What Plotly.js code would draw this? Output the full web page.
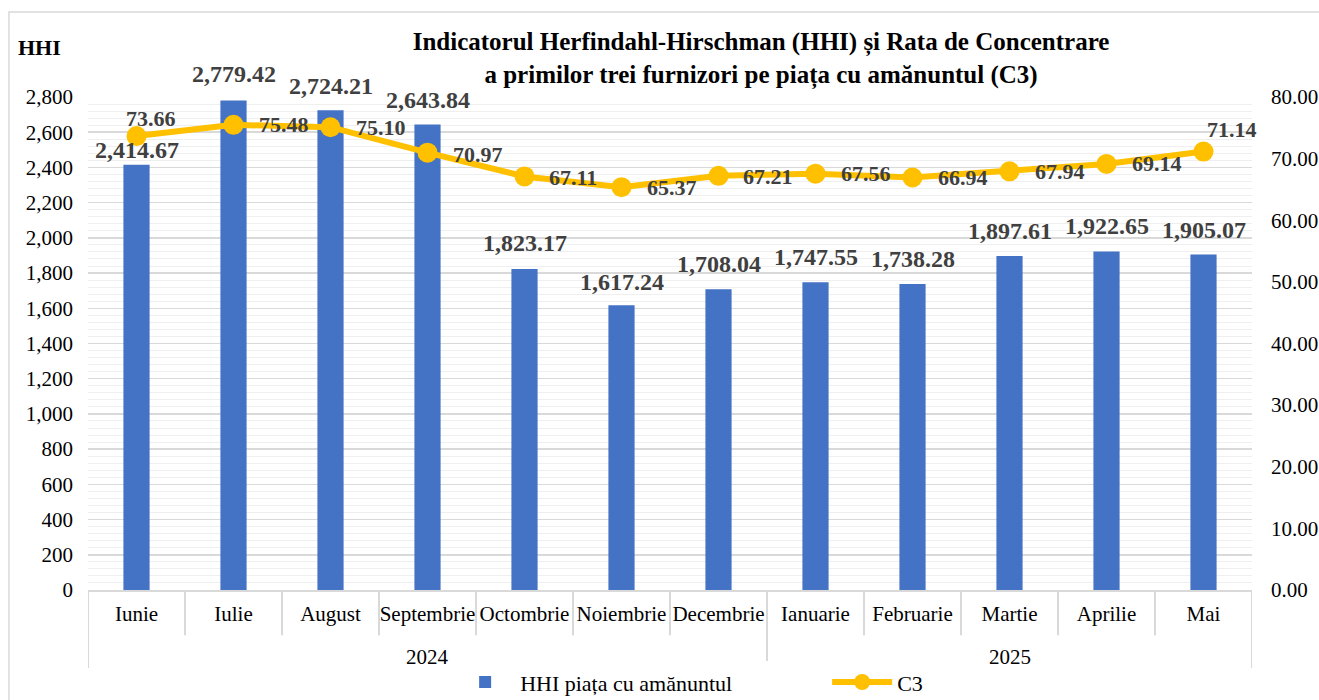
<!DOCTYPE html>
<html>
<head>
<meta charset="utf-8">
<script src="https://cdn.plot.ly/plotly-3.0.1.min.js"></script>
<style>
  html, body { margin: 0; padding: 0; background: #ffffff; }
  #chart { width: 1319px; height: 700px; }
</style>
</head>
<body>
<div id="chart"></div>
<script>
// ---- data ----
const months = ["Iunie", "Iulie", "August", "Septembrie", "Octombrie", "Noiembrie", "Decembrie",
                "Ianuarie", "Februarie", "Martie", "Aprilie", "Mai"];
const years = ["2024", "2025"];
const yearSpans = [[0, 6], [7, 11]];   // first and last month index for each year
const hhi = [2414.67, 2779.42, 2724.21, 2643.84, 1823.17, 1617.24, 1708.04,
             1747.55, 1738.28, 1897.61, 1922.65, 1905.07];
const c3 = [73.66, 75.48, 75.10, 70.97, 67.11, 65.37, 67.21,
            67.56, 66.94, 67.94, 69.14, 71.14];

// label placement (pixel offsets, style only)
const hhiLabelShift = [15, 27, 24, 25, 26, 23, 25, 25, 25, 25, 25, 25];
const c3LabelDx = [14, 50, 50, 50, 48, 50, 49, 50, 50, 50, 50, 28];
const c3LabelDy = [18, 0, 0, -2, -1, 0, -1, 0, 0, 0, 0, 22];

const serif = "Liberation Serif";
const tickSize = 21;
const labelColor = "#404040";

const fmt2 = v => v.toLocaleString("en-US", { minimumFractionDigits: 2, maximumFractionDigits: 2 });

const traces = [
  {
    type: "bar",
    name: "HHI piața cu amănuntul",
    x: months,
    y: hhi,
    yaxis: "y",
    marker: { color: "#4472C4" },
    cliponaxis: false
  },
  {
    type: "scatter",
    mode: "lines+markers",
    name: "C3",
    x: months,
    y: c3,
    yaxis: "y2",
    line: { color: "#FFC000", width: 6 },
    marker: { color: "#FFC000", size: 20 },
    cliponaxis: false
  }
];

// separators under category axis
const shapes = [];
const monthSepBottom = -0.092;
const yearSepBottom = -0.158;
const yearBoundaries = new Set([-0.5]);
yearSpans.forEach(s => yearBoundaries.add(s[1] + 0.5));
for (let i = 0; i <= months.length; i++) {
  const xpos = i - 0.5;
  shapes.push({
    type: "line", xref: "x", yref: "paper",
    x0: xpos, x1: xpos, y0: 0, y1: yearBoundaries.has(xpos) ? yearSepBottom : monthSepBottom,
    line: { color: "#d9d9d9", width: 2 }
  });
}
// outer chart border
shapes.push({
  type: "rect", xref: "paper", yref: "paper",
  x0: -0.0679, x1: 1.0868, y0: -0.25, y1: 1.1724,
  line: { color: "#d9d9d9", width: 1.5 }, fillcolor: "rgba(0,0,0,0)", layer: "below"
});

const annotations = [];
// year labels
yearSpans.forEach((s, k) => annotations.push({
  xref: "x", yref: "paper",
  x: (s[0] + s[1]) / 2, y: -0.136,
  text: years[k], showarrow: false,
  font: { family: serif, size: tickSize, color: "#000000" },
  xanchor: "center", yanchor: "middle"
}));
// axis caption
annotations.push({
  xref: "paper", yref: "paper", x: -0.062, y: 1.0994,
  xanchor: "left", yanchor: "middle",
  text: "<b>HHI</b>", showarrow: false,
  font: { family: serif, size: 22, color: "#000000" }
});
// bar value labels
months.forEach((m, i) => annotations.push({
  xref: "x", yref: "y", x: m, y: hhi[i],
  yshift: hhiLabelShift[i],
  xanchor: "center", yanchor: "middle",
  text: "<b>" + fmt2(hhi[i]) + "</b>", showarrow: false,
  font: { family: serif, size: 24, color: labelColor }
}));
// C3 value labels
months.forEach((m, i) => annotations.push({
  xref: "x", yref: "y2", x: m, y: c3[i],
  xshift: c3LabelDx[i], yshift: c3LabelDy[i],
  xanchor: "center", yanchor: "middle",
  text: "<b>" + c3[i].toFixed(2) + "</b>", showarrow: false,
  font: { family: serif, size: 22, color: labelColor }
}));

const layout = {
  width: 1319,
  height: 700,
  margin: { l: 88, r: 67, t: 97, b: 110, autoexpand: false },
  paper_bgcolor: "#ffffff",
  plot_bgcolor: "#ffffff",
  font: { family: serif, size: tickSize, color: "#000000" },
  title: {
    text: "<b>Indicatorul Herfindahl-Hirschman (HHI) și Rata de Concentrare<br>a primilor trei furnizori pe piața cu amănuntul (C3)</b>",
    font: { family: serif, size: 25, color: "#000000" },
    x: 0.577, xanchor: "center",
    y: 0.928, yanchor: "middle"
  },
  bargap: 0.73,
  showlegend: true,
  legend: {
    orientation: "h",
    x: 0.635, xanchor: "center",
    y: -0.187, yanchor: "middle",
    font: { family: serif, size: 22, color: "#000000" },
    itemwidth: 60,
    entrywidth: 302,
    traceorder: "normal"
  },
  xaxis: {
    type: "category",
    categoryorder: "array",
    categoryarray: months,
    showgrid: false,
    showline: true,
    linecolor: "#d9d9d9",
    linewidth: 2,
    ticks: "",
    automargin: false,
    tickfont: { family: serif, size: tickSize, color: "#000000" },
    ticklabelstandoff: 4,
    zeroline: false,
    range: [-0.5, months.length - 0.5]
  },
  yaxis: {
    range: [0, 2800],
    dtick: 200,
    tickformat: ",d",
    showgrid: true,
    gridcolor: "#d9d9d9",
    gridwidth: 1.5,
    minor: { dtick: 40, showgrid: true, gridcolor: "#efefef", gridwidth: 1 },
    zeroline: false,
    showline: false,
    ticks: "",
    automargin: false,
    ticklabelstandoff: 14,
    tickfont: { family: serif, size: tickSize, color: "#000000" }
  },
  yaxis2: {
    overlaying: "y",
    side: "right",
    range: [0, 80],
    dtick: 10,
    tickformat: ".2f",
    showgrid: false,
    zeroline: false,
    showline: false,
    ticks: "",
    automargin: false,
    ticklabelstandoff: 18,
    tickfont: { family: serif, size: tickSize, color: "#000000" }
  },
  shapes: shapes,
  annotations: annotations
};

Plotly.newPlot("chart", traces, layout, { displayModeBar: false, staticPlot: true });
</script>
</body>
</html>
